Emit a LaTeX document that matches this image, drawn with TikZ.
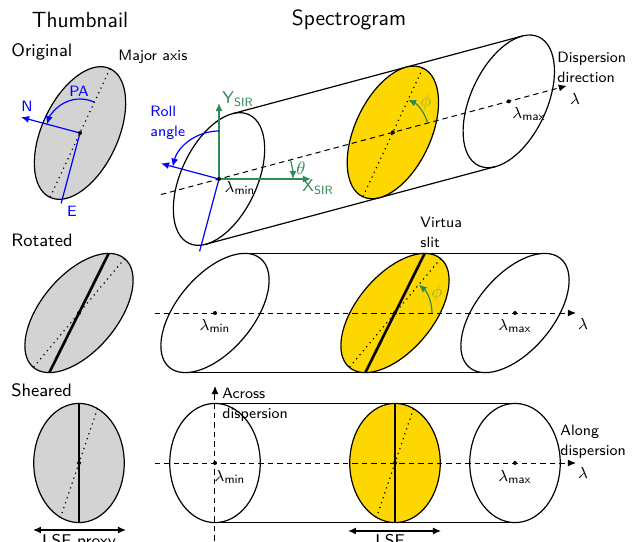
\documentclass[tikz,border=0pt]{standalone}
\usepackage{tikz}
\usetikzlibrary{arrows.meta,calc}
\renewcommand{\familydefault}{\sfdefault}

\definecolor{sirgreen}{RGB}{46,139,87}
\definecolor{slitgold}{RGB}{255,215,0}
\definecolor{phigreen}{RGB}{150,180,40}
\definecolor{thumbgray}{RGB}{211,211,211}

\begin{document}
\begin{tikzpicture}[
    x=0.5pt, y=0.5pt,
    every node/.style={font=\fontsize{7.5}{10}\selectfont, inner sep=1pt},
    title/.style={font=\fontsize{11}{13}\selectfont},
    rowlabel/.style={font=\fontsize{9}{11}\selectfont, anchor=west},
    note/.style={align=left, anchor=west},
    lam/.style={font=\fontsize{8}{10}\selectfont},
    axlab/.style={sirgreen, anchor=west, font=\fontsize{8.5}{10}\selectfont},
    blob/.style={draw, line width=0.6pt},
    thumb/.style={blob, fill=thumbgray},
    slitimg/.style={blob, fill=slitgold},
    majoraxis/.style={dotted, line width=0.6pt},
    slitline/.style={line width=1.3pt},
    edge/.style={line width=0.6pt},
    disp/.style={dash pattern=on 2.7pt off 2pt, line width=0.5pt, -{Latex[length=4pt,width=3.5pt]}},
    sky/.style={blue, line width=0.6pt},
    sir/.style={sirgreen, line width=0.6pt, -{Latex[length=4pt,width=3.5pt]}},
    tip/.style={-{Latex[length=4pt,width=3.5pt]}},
    dot/.style={circle, fill, inner sep=0pt, minimum size=2pt}
]
\useasboundingbox (0,0) rectangle (634,-542);

% titles and rows
\node[title] (thumbtitle) at (80,-20) {Thumbnail};
\node[title] (spectitle) at (349,-20) {Spectrogram};
\node[rowlabel] (original) at (9,-52) {Original};
\node[rowlabel] (rotated) at (9,-240) {Rotated};
\node[rowlabel] (sheared) at (9,-390) {Sheared};

% ---- original thumbnail
\coordinate (oc) at (80,-133);
\draw[thumb, rotate around={65:(oc)}] (oc) ellipse [x radius=71, y radius=38];
\draw[majoraxis] ($(oc)+(65:71)$) -- ($(oc)+(245:71)$);
\coordinate (oN) at ($(oc)+(165:61)$);
\coordinate (oE) at ($(oc)+(255:73)$);
\draw[sky, tip] (oc) -- (oN);
\draw[sky] (oc) -- (oE);
\draw[sky, tip] ($(oc)+(65:34)$) arc[start angle=65, end angle=165, radius=34];
\node[dot] (ocd) at (oc) {};
\node[blue] (Nlab) at (27,-106) {N};
\node[blue] (Elab) at (72,-211) {E};
\node[blue] (PAlab) at (79,-91) {PA};
\node[note] (majlab) at (116,-57) {Major axis};

% ---- original spectrogram
\coordinate (c1) at (219,-179);
\coordinate (c2) at ($(c1)+(15:180)$);
\coordinate (c3) at ($(c1)+(15:300)$);
\draw[edge] ($(c1)+(78.5:66.6)$) -- ($(c3)+(78.5:66.6)$);
\draw[edge] ($(c1)+(258.5:66.6)$) -- ($(c3)+(258.5:66.6)$);
\draw[blob, rotate around={65:(c1)}] (c1) ellipse [x radius=71, y radius=38];
\draw[slitimg, rotate around={65:(c2)}] (c2) ellipse [x radius=71, y radius=38];
\draw[blob, rotate around={65:(c3)}] (c3) ellipse [x radius=71, y radius=38];
\draw[majoraxis] ($(c2)+(65:71)$) -- ($(c2)+(245:71)$);
\draw[disp] ($(c1)+(195:60)$) -- ($(c1)+(15:360)$);
\draw[sirgreen, line width=0.6pt, tip] ($(c2)+(15:36)$) arc[start angle=15, end angle=65, radius=36];
\coordinate (ysir) at (219,-103);
\coordinate (xsir) at (311,-179);
\draw[sir] (c1) -- (ysir);
\draw[sir] (c1) -- (xsir);
\draw[sirgreen, line width=0.6pt, tip] ($(c1)+(15:74)$) arc[start angle=15, end angle=0, radius=74];
\draw[sky, tip] ($(c1)+(90:48)$) arc[start angle=90, end angle=165, radius=48];
\coordinate (sN) at ($(c1)+(165:60)$);
\coordinate (sE) at ($(c1)+(255:75)$);
\draw[sky, tip] (c1) -- (sN);
\draw[sky] (c1) -- (sE);
\node[dot] (c1d) at (c1) {};
\node[dot] (c2d) at (c2) {};
\node[dot] (c3d) at (c3) {};
\node[axlab] (ylab) at (220,-99) {Y\textsubscript{SIR}};
\node[axlab] (xlab) at (300,-187) {X\textsubscript{SIR}};
\node[sirgreen, font=\fontsize{9}{10}\selectfont] (thetalab) at (301,-168) {$\theta$};
\node[phigreen, font=\fontsize{9}{10}\selectfont] (phia) at (426,-102) {$\phi$};
\node[blue, note] (rolllab) at (148,-123) {Roll\\angle};
\node[lam] (lmin1) at (240,-188) {$\lambda_{\mathsf{min}}$};
\node[lam] (lmax1) at (529,-114) {$\lambda_{\mathsf{max}}$};
\node[lam] (lam1) at (575,-99) {$\lambda$};
\node[note] (displab) at (555,-67) {Dispersion\\direction};
\node[note] (slitlab) at (418,-232) {Virtua\\slit};

% ---- rotated thumbnail
\coordinate (rc) at (79,-313);
\draw[thumb, rotate around={50:(rc)}] (rc) ellipse [x radius=71, y radius=38];
\draw[majoraxis] ($(rc)+(50:71)$) -- ($(rc)+(230:71)$);
\draw[slitline] ($(rc)+(29.7,59.6)$) -- ($(rc)+(-29.7,-59.6)$);
\node[dot] (rcd) at (rc) {};

% ---- rotated spectrogram
\coordinate (r1) at (215,-313);
\coordinate (r2) at (395,-313);
\coordinate (r3) at (515,-313);
\draw[edge] ($(r1)+(29.7,59.6)$) -- ($(r3)+(29.7,59.6)$);
\draw[edge] ($(r1)+(-29.7,-59.6)$) -- ($(r3)+(-29.7,-59.6)$);
\draw[blob, rotate around={50:(r1)}] (r1) ellipse [x radius=71, y radius=38];
\draw[slitimg, rotate around={50:(r2)}] (r2) ellipse [x radius=71, y radius=38];
\draw[blob, rotate around={50:(r3)}] (r3) ellipse [x radius=71, y radius=38];
\draw[majoraxis] ($(r2)+(50:71)$) -- ($(r2)+(230:71)$);
\draw[slitline] ($(r2)+(29.7,59.6)$) -- ($(r2)+(-29.7,-59.6)$);
\coordinate (rtail) at (155,-313);
\coordinate (rhead) at (576,-313);
\draw[disp] (rtail) -- (rhead);
\draw[sirgreen, line width=0.6pt, tip] ($(r2)+(0:37)$) arc[start angle=0, end angle=50, radius=37];
\node[dot] (r1d) at (r1) {};
\node[dot] (r2d) at (r2) {};
\node[dot] (r3d) at (r3) {};
\node[phigreen, font=\fontsize{9}{10}\selectfont] (phib) at (437,-293) {$\phi$};
\node[lam] (lmin2) at (215,-326) {$\lambda_{\mathsf{min}}$};
\node[lam] (lmax2) at (515,-326) {$\lambda_{\mathsf{max}}$};
\node[lam] (lam2) at (583,-324) {$\lambda$};

% ---- sheared thumbnail
\coordinate (sc) at (79,-463);
\draw[thumb] (sc) ellipse [x radius=45.25, y radius=59.6];
\draw[majoraxis] ($(sc)+(18.5,54.4)$) -- ($(sc)+(-18.5,-54.4)$);
\draw[slitline] ($(sc)+(0,59.6)$) -- ($(sc)+(0,-59.6)$);
\node[dot] (scd) at (sc) {};
\coordinate (lpl) at (33,-530);
\coordinate (lpr) at (126,-530);
\draw[edge, {Latex[length=4pt,width=3.5pt]}-{Latex[length=4pt,width=3.5pt]}] (lpl) -- (lpr);
\node[font=\fontsize{8.5}{10}\selectfont, anchor=base] (lsfp) at (79,-546) {LSF proxy};

% ---- sheared spectrogram
\coordinate (h1) at (215,-463);
\coordinate (h2) at (395,-463);
\coordinate (h3) at (515,-463);
\draw[edge] ($(h1)+(0,59.6)$) -- ($(h3)+(0,59.6)$);
\draw[edge] ($(h1)+(0,-59.6)$) -- ($(h3)+(0,-59.6)$);
\draw[blob] (h1) ellipse [x radius=45.25, y radius=59.6];
\draw[slitimg] (h2) ellipse [x radius=45.25, y radius=59.6];
\draw[blob] (h3) ellipse [x radius=45.25, y radius=59.6];
\draw[majoraxis] ($(h2)+(18.5,54.4)$) -- ($(h2)+(-18.5,-54.4)$);
\draw[slitline] ($(h2)+(0,59.6)$) -- ($(h2)+(0,-59.6)$);
\coordinate (htail) at (155,-463);
\coordinate (hhead) at (576,-463);
\coordinate (vtail) at (215,-550);
\coordinate (vhead) at (215,-386);
\draw[disp] (htail) -- (hhead);
\draw[disp] (vtail) -- (vhead);
\node[dot] (h1d) at (h1) {};
\node[dot] (h2d) at (h2) {};
\node[dot] (h3d) at (h3) {};
\coordinate (lsl) at (348,-531);
\coordinate (lsr) at (441,-531);
\draw[edge, {Latex[length=4pt,width=3.5pt]}-{Latex[length=4pt,width=3.5pt]}] (lsl) -- (lsr);
\node[font=\fontsize{8.5}{10}\selectfont, anchor=base] (lsf) at (390,-546) {LSF};
\node[lam] (lmin3) at (230,-477) {$\lambda_{\mathsf{min}}$};
\node[lam] (lmax3) at (515,-477) {$\lambda_{\mathsf{max}}$};
\node[lam] (lam3) at (583,-473) {$\lambda$};
\node[note] (acrosslab) at (220,-405) {Across\\dispersion};
\node[note] (alonglab) at (558,-442) {Along\\dispersion};
\end{tikzpicture}
\end{document}
